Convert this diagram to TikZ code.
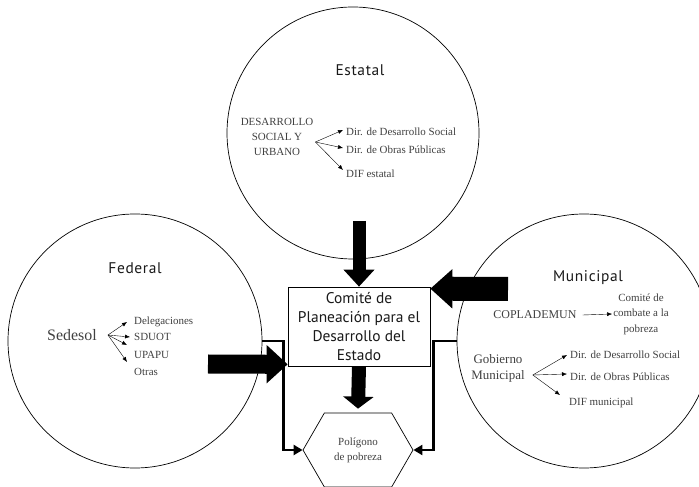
\documentclass[tikz,border=0pt]{standalone}
\usepackage{fontspec}
\setmainfont{Liberation Serif}
\setsansfont{PT Sans}
\newfontfamily\ttlfont[LetterSpace=4]{PT Sans}
\usepackage{tikz}
\usetikzlibrary{arrows.meta,shapes.symbols}

\begin{document}
\begin{tikzpicture}[>={Latex[length=5bp,width=4bp]},
	zone/.style={circle,draw,line width=0.7bp,minimum size=#1,inner sep=0pt},
	title/.style={font=\ttlfont\fontsize{15.5}{17}\selectfont,text=black!90},
	item/.style={font=\fontsize{11}{15}\selectfont,text=black!75,inner sep=1bp},
	big/.style n args={3}{line width=#1,-{Triangle[length=#2,width=#3]}},
	elbow/.style={line width=2.8bp,-{Triangle[length=9bp,width=10bp]}}]
	\useasboundingbox (0bp,0bp) rectangle (699bp,487bp);

	\node (est)  at (353bp,354bp) [zone=252bp] {};
	\node (fed)  at (135bp,146bp) [zone=254bp] {};
	\node (mun)  at (584bp,146bp) [zone=254bp] {};

	\node (estT) at (360bp,417bp) [title] {Estatal};
	\node (fedT) at (135bp,219bp) [title] {Federal};
	\node (munT) at (588bp,209bp) [title] {Municipal};

	\node (cpd)  at (359bp,160.5bp) [draw,line width=0.7bp,minimum width=142bp,minimum height=79bp,
		inner sep=0pt,align=center,text=black!90,font=\sffamily\fontsize{15.5}{19}\selectfont]
		{Comité de\\Planeación para el\\Desarrollo del\\Estado};
	\node (pol)  at (358bp,37bp) [signal,signal to=east and west,signal pointer angle=120,draw,
		line width=0.7bp,minimum width=110bp,minimum height=74bp,item,inner sep=0pt,align=center]
		{Polígono\\de pobreza};

	\node (dsu)  at (277bp,350bp) [item,align=center,inner sep=0pt] {DESARROLLO\\SOCIAL Y\\URBANO};
	\node (e1)   at (345bp,355bp) [item,anchor=west] {Dir. de Desarrollo Social};
	\node (e2)   at (345bp,337bp) [item,anchor=west] {Dir. de Obras Públicas};
	\node (e3)   at (345bp,313bp) [item,anchor=west] {DIF estatal};

	\node (sed)  at (72bp,152bp)  [item,font=\fontsize{16}{18}\selectfont] {Sedesol};
	\node (f1)   at (133bp,165bp) [item,anchor=west] {Delegaciones};
	\node (f2)   at (133bp,150bp) [item,anchor=west] {SDUOT};
	\node (f3)   at (133bp,132bp) [item,anchor=west] {UPAPU};
	\node (f4)   at (133bp,115bp) [item,anchor=west] {Otras};

	\node (cop)  at (535bp,172bp) [item,font=\fontsize{12}{14}\selectfont] {COPLADEMUN};
	\node (comb) at (641bp,173bp) [item,align=center,font=\fontsize{11}{15.5}\selectfont] {Comité de\\combate a la\\pobreza};
	\node (gob)  at (498bp,119bp) [item,align=center,font=\fontsize{13}{16}\selectfont] {Gobierno\\Municipal};
	\node (m1)   at (569bp,132bp) [item,anchor=west] {Dir. de Desarrollo Social};
	\node (m2)   at (569bp,110bp) [item,anchor=west] {Dir. de Obras Públicas};
	\node (m3)   at (568bp,84bp)  [item,anchor=west] {DIF municipal};

	\coordinate (dsuF) at ([xshift=2bp,yshift=-5bp]dsu.east);
	\coordinate (sedF) at ([xshift=10bp]sed.east);
	\coordinate (gobF) at ([xshift=7bp,yshift=-7bp]gob.east);

	\draw [->] (dsuF) to ([xshift=-2bp,yshift=2bp]e1.west);
	\draw [->] (dsuF) to ([xshift=-2bp,yshift=2bp]e2.west);
	\draw [->] (dsuF) to ([xshift=-2bp,yshift=4bp]e3.west);
	\draw [->] (sedF) to ([xshift=-6bp]f1.west);
	\draw [->] (sedF) to ([xshift=-3bp]f2.west);
	\draw [->] (sedF) to ([xshift=-6bp,yshift=10bp]f3.west);
	\draw [->] (sedF) to ([xshift=-6bp,yshift=10bp]f4.west);
	\draw [->] ([xshift=5bp]cop.east) to (comb.west);
	\draw [->] (gobF) to ([xshift=-2bp]m1.west);
	\draw [->] (gobF) to ([xshift=-2bp,yshift=3bp]m2.west);
	\draw [->] (gobF) to ([xshift=-8bp,yshift=8bp]m3.west);

	\draw [elbow] (fed.east) -- ++(21bp,0bp) |- (pol.west);
	\draw [elbow] (mun.west) -- ++(-23bp,0bp) |- (pol.east);

	\coordinate (estO) at (359bp,266bp);
	\coordinate (fedO) at (208bp,123bp);
	\coordinate (munO) at (508bp,198bp);
	\draw [big={13bp}{17bp}{30bp}] (estO) -- (cpd.north);
	\draw [big={14bp}{12bp}{30bp}] (cpd.south) -- ([yshift=4bp]pol.north);
	\draw [big={19bp}{21bp}{37bp}] (fedO) -- ([yshift=2bp]cpd.south west);
	\draw [big={24bp}{22bp}{38bp}] (munO) -- ([yshift=-2bp]cpd.north east);
\end{tikzpicture}
\end{document}
